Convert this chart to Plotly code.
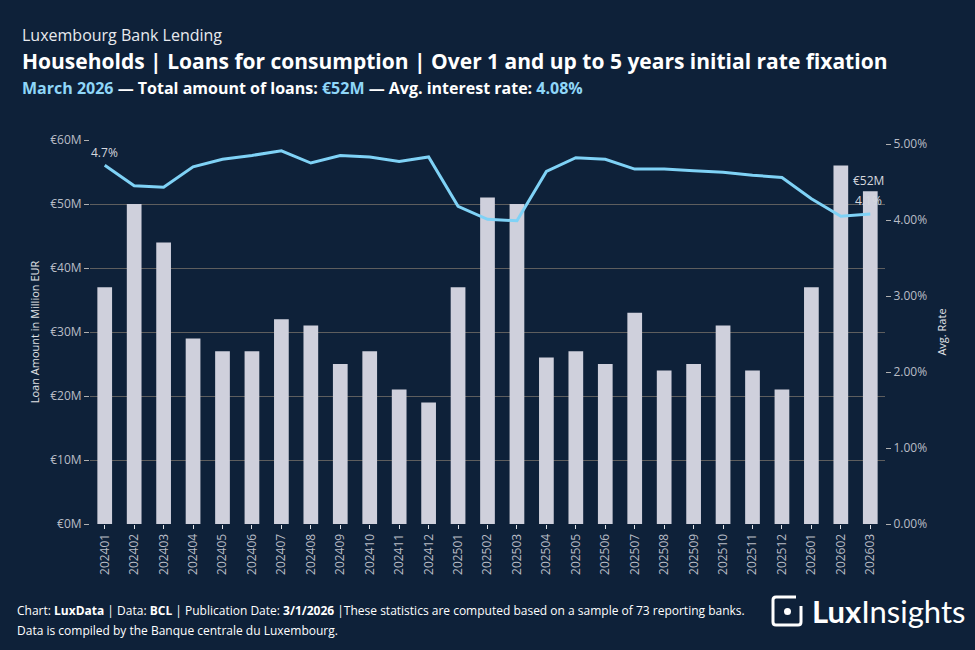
import plotly.graph_objects as go

periods = ["202401","202402","202403","202404","202405","202406","202407","202408","202409",
           "202410","202411","202412","202501","202502","202503","202504","202505","202506",
           "202507","202508","202509","202510","202511","202512","202601","202602","202603"]
loans_m = [37, 50, 44, 29, 27, 27, 32, 31, 25, 27, 21, 19, 37, 51, 50, 26, 27, 25,
           33, 24, 25, 31, 24, 21, 37, 56, 52]
rates = [4.72, 4.45, 4.43, 4.70, 4.80, 4.85, 4.91, 4.75, 4.85, 4.83, 4.77, 4.83, 4.18, 4.01,
         3.99, 4.64, 4.82, 4.80, 4.67, 4.67, 4.65, 4.63, 4.59, 4.56, 4.28, 4.05, 4.08]
rate_ticks = [0, 1, 2, 3, 4, 5]
loan_ticks = [0, 10, 20, 30, 40, 50, 60]

BG = "#0e2139"
BAR = "#cfd0dc"
LINE = "#7fd2f6"
TXT = "#ffffff"
TICK = "#b9bdc6"
ACC = "#8fd6f8"
FONT = "Open Sans"

idx = list(range(len(periods)))

fig = go.Figure()
fig.add_trace(go.Bar(x=idx, y=loans_m, marker=dict(color=BAR, line=dict(width=0)),
                     width=0.5, name="Loans", yaxis="y"))
fig.add_trace(go.Scatter(x=idx, y=rates, mode="lines", line=dict(color=LINE, width=3),
                         name="Rate", yaxis="y2"))

# value labels
fig.add_annotation(x=idx[0], y=rates[0], yref="y2", text=f"{rates[0]:.1f}%", showarrow=False,
                   yshift=13, font=dict(size=12, color="#d6d8de", family=FONT))
fig.add_annotation(x=idx[-1], y=loans_m[-1], yref="y", text=f"€{loans_m[-1]}M", showarrow=False,
                   yshift=11, xshift=-2, font=dict(size=12, color="#d6d8de", family=FONT))
fig.add_annotation(x=idx[-1], y=rates[-1], yref="y2", text=f"{rates[-1]:.1f}%", showarrow=False,
                   yshift=13, xshift=-2, font=dict(size=12, color="#d6d8de", family=FONT))

def px(xp, yp):
    return (xp - 90) / 795, 1 - (yp - 140) / 384

texts = [
    (20, 35, "Luxembourg Bank Lending", 16, "#e8eaee"),
    (20, 61, "<b>Households | Loans for consumption | Over 1 and up to 5 years initial rate fixation</b>", 21, TXT),
    (20, 88, f"<b><span style='color:{ACC}'>March 2026</span> — Total amount of loans: "
             f"<span style='color:{ACC}'>€52M</span> — Avg. interest rate: "
             f"<span style='color:{ACC}'>4.08%</span></b>", 16, TXT),
    (15, 610, "Chart: <b>LuxData</b> | Data: <b>BCL</b> | Publication Date: <b>3/1/2026</b> |These statistics are computed based on a sample of 73 reporting banks.", 12, TXT),
    (15, 630, "Data is compiled by the Banque centrale du Luxembourg.", 12, TXT),
]
for x, y, t, s, c in texts:
    xx, yy = px(x, y)
    fig.add_annotation(xref="paper", yref="paper", x=xx, y=yy,
                       xanchor="left", yanchor="middle", text=t, showarrow=False, align="left",
                       font=dict(size=s, color=c, family=FONT))

# logo
lx, ly = px(810, 611)
fig.add_annotation(xref="paper", yref="paper", x=lx, y=ly,
                   xanchor="left", yanchor="middle", showarrow=False,
                   text="<b>Lux</b>Insights", font=dict(size=31, color="#ffffff", family="Lato"))

p = [px(796, 597), px(776, 597), px(773, 600), px(773, 622), px(776, 625), px(798, 625),
     px(801, 622), px(801, 606)]
path = "M {} {} L {} {} Q {} {} {} {} L {} {} Q {} {} {} {} L {} {} Q {} {} {} {} L {} {}".format(
    p[0][0], p[0][1], p[1][0], p[1][1],
    *px(773, 597), p[2][0], p[2][1], p[3][0], p[3][1],
    *px(773, 625), p[4][0], p[4][1], p[5][0], p[5][1],
    *px(801, 625), p[6][0], p[6][1], p[7][0], p[7][1])
fig.add_shape(type="path", xref="paper", yref="paper", path=path,
              line=dict(color="#ffffff", width=3))
c0 = px(784, 608); c1 = px(791, 615)
fig.add_shape(type="circle", xref="paper", yref="paper", x0=c0[0], y0=c0[1], x1=c1[0], y1=c1[1],
              fillcolor="#ffffff", line=dict(width=0))

fig.update_layout(
    width=975, height=650,
    margin=dict(l=90, r=90, t=140, b=126),
    paper_bgcolor=BG, plot_bgcolor=BG,
    showlegend=False,
    font=dict(family=FONT, color=TICK, size=12),
    xaxis=dict(range=[-0.5, len(periods) - 0.5], tickvals=idx, ticktext=periods, tickangle=-90,
               ticks="outside", ticklen=4, tickcolor="#dfe1e6",
               tickfont=dict(size=12, color=TICK, family=FONT), showgrid=False, showline=False,
               zeroline=False),
    yaxis=dict(range=[0, 60], tickvals=loan_ticks, ticktext=[f"€{v}M" for v in loan_ticks],
               showgrid=True, gridcolor="#5e5e5e", gridwidth=1, zeroline=False,
               ticks="outside", ticklen=5, tickcolor="#b0b0b0",
               tickfont=dict(size=12, color=TICK, family=FONT),
               title=dict(text="Loan Amount in Million EUR", font=dict(size=11, color="#e0e2e6", family=FONT),
                          standoff=8)),
    yaxis2=dict(range=[0, 5.053], overlaying="y", side="right", tickvals=rate_ticks,
                ticktext=[f"{v:.2f}%" for v in rate_ticks], showgrid=False, zeroline=False,
                ticks="outside", ticklen=5, tickcolor="#b0b0b0",
                tickfont=dict(size=12, color=TICK, family=FONT),
                title=dict(text="Avg. Rate", font=dict(size=11, color="#e0e2e6", family=FONT), standoff=12)),
)

fig.write_html("out.html")
